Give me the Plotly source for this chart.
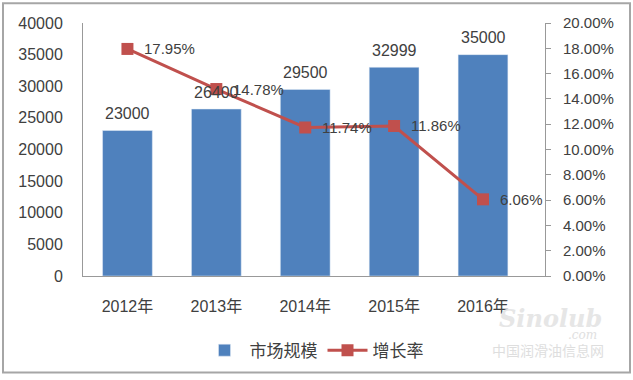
import plotly.graph_objects as go

years = ["2012年", "2013年", "2014年", "2015年", "2016年"]
market_size = [23000, 26400, 29500, 32999, 35000]
growth_rate = [17.95, 14.78, 11.74, 11.86, 6.06]
left_ticks = [0, 5000, 10000, 15000, 20000, 25000, 30000, 35000, 40000]
right_ticks = [0, 2, 4, 6, 8, 10, 12, 14, 16, 18, 20]

FONT = "Liberation Sans, Noto Sans CJK SC, sans-serif"
TXT = "#404040"
BAR_C = "#4F81BD"
LINE_C = "#C0504D"

fig = go.Figure()
fig.add_trace(go.Bar(x=years, y=market_size, name="市场规模", marker_color=BAR_C,
                     yaxis="y"))
fig.add_trace(go.Scatter(x=years, y=growth_rate, name="增长率", mode="lines+markers",
                         line=dict(color=LINE_C, width=3),
                         marker=dict(symbol="square", size=12, color=LINE_C),
                         yaxis="y2"))

annotations = []
for yr, v in zip(years, market_size):
    annotations.append(dict(x=yr, y=v, xref="x", yref="y", text=str(v), showarrow=False,
                            yshift=17, font=dict(size=16, color=TXT, family=FONT)))
for yr, g in zip(years, growth_rate):
    annotations.append(dict(x=yr, y=g, xref="x", yref="y2", text=f"{g:.2f}%", showarrow=False,
                            xanchor="left", xshift=15, font=dict(size=15, color=TXT, family=FONT)))
# watermark
annotations.append(dict(x=(550 - 83) / 462, y=(280 - 323) / 257, xref="paper", yref="paper",
                        xanchor="center", yanchor="middle",
                        text="<i><b>Sinolub</b></i>", showarrow=False,
                        font=dict(size=24, color="#e6e6e6", family="DejaVu Serif")))
annotations.append(dict(x=(582 - 83) / 462, y=(280 - 340) / 257, xref="paper", yref="paper",
                        xanchor="center", yanchor="middle",
                        text="<i>.com</i>", showarrow=False,
                        font=dict(size=12, color="#e0e0e0", family="DejaVu Serif")))
annotations.append(dict(x=(548 - 83) / 462, y=(280 - 356) / 257, xref="paper", yref="paper",
                        xanchor="center", yanchor="middle",
                        text="中国润滑油信息网", showarrow=False,
                        font=dict(size=14, color="#dedede", family=FONT)))

fig.update_layout(
    width=633, height=380,
    margin=dict(l=83, r=88, t=23, b=100),
    paper_bgcolor="white", plot_bgcolor="white",
    font=dict(family=FONT, size=16, color=TXT),
    bargap=0.44,
    showlegend=True,
    legend=dict(orientation="h", x=0.5, xanchor="center", y=-0.295, yanchor="middle",
                font=dict(size=17, color=TXT), itemwidth=40),
    xaxis=dict(showline=True, linecolor="#999999", linewidth=1, ticks="",
               ticklabelstandoff=16, tickfont=dict(size=16, color=TXT), fixedrange=True),
    yaxis=dict(range=[0, 40000], tickvals=left_ticks, tickformat="d", showgrid=False, zeroline=False,
               showline=True, linecolor="#999999", linewidth=1, ticks="",
               ticklabelstandoff=16, tickfont=dict(size=16, color=TXT)),
    yaxis2=dict(range=[0, 20], tickvals=right_ticks,
                ticktext=[f"{t:.2f}%" for t in right_ticks],
                overlaying="y", side="right", showgrid=False, zeroline=False,
                showline=True, linecolor="#999999", linewidth=1, ticks="outside",
                ticklen=5, tickcolor="#999999", ticklabelstandoff=9,
                tickfont=dict(size=15, color=TXT)),
    annotations=annotations,
    shapes=[dict(type="rect", xref="paper", yref="paper",
                 x0=(3 - 83) / 462, x1=(630 - 83) / 462,
                 y0=(280 - 378) / 257, y1=(280 - 3) / 257,
                 line=dict(color="#a6a6a6", width=2), layer="below")],
)

fig.write_html("out.html", config={"displayModeBar": False},
               post_script="document.body.style.margin='0';")
